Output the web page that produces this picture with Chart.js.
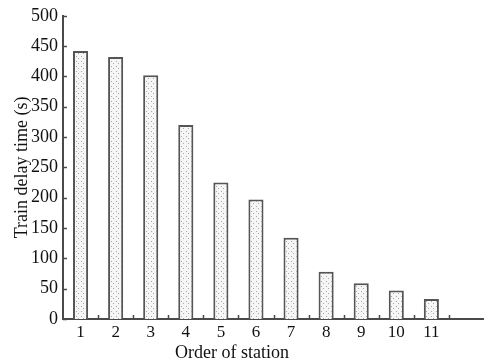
<!DOCTYPE html>
<html>
<head>
<meta charset="utf-8">
<script src="https://cdn.jsdelivr.net/npm/chart.js@4"></script>
<style>
  html, body { margin: 0; padding: 0; background: #fff; }
  #wrap { width: 484px; height: 364px; }
</style>
</head>
<body>
<div id="wrap"><canvas id="delayChart"></canvas></div>
<script>
// Chart data
// ----------------------------------------------
const stations = ['1', '2', '3', '4', '5', '6', '7', '8', '9', '10', '11', ''];
const delays   = [442, 432, 402, 320, 225, 197, 134, 78, 59, 47, 33];
const yTicks   = [0, 50, 100, 150, 200, 250, 300, 350, 400, 450, 500];

const axisColor = '#4a4a4a';
const textColor = '#111';
const serif     = '"Liberation Serif", "DejaVu Serif", serif';

// Dotted fill for the bars
// ----------------------------------------------
const makeDots = () => {
   const c = document.createElement('canvas');
   c.width = 5; c.height = 5;
   const g = c.getContext('2d');
   g.fillStyle = '#f6f6f6';
   g.fillRect(0, 0, 5, 5);
   g.fillStyle = '#a8a8a8';
   g.fillRect(1, 1, 1, 1);
   g.fillRect(3, 3, 1, 1);
   return g.createPattern(c, 'repeat');
};

// Inward tick marks + x title
// ----------------------------------------------
const axisExtras = {
   id: 'axisExtras',
   afterDraw(chart) {
      const { ctx, chartArea, scales: { x, y } } = chart;
      ctx.save();
      ctx.strokeStyle = axisColor;
      ctx.lineWidth = 1.5;
      ctx.beginPath();
      yTicks.forEach(v => {
         const py = Math.round(y.getPixelForValue(v)) + 0.5;
         ctx.moveTo(chartArea.left, py);
         ctx.lineTo(chartArea.left + 4, py);
      });
      for (let i = 1; i < stations.length; i++) {
         const px = Math.round((x.getPixelForValue(i - 1) + x.getPixelForValue(i)) / 2) + 0.5;
         ctx.moveTo(px, chartArea.bottom);
         ctx.lineTo(px, chartArea.bottom - 4);
      }
      ctx.stroke();

      ctx.fillStyle = textColor;
      ctx.font = '18px ' + serif;
      ctx.textAlign = 'center';
      ctx.textBaseline = 'alphabetic';
      ctx.fillText('Order of station', 232, 358);
      ctx.restore();
   }
};

const chart = new Chart(document.getElementById('delayChart'), {
   type: 'bar',
   data: {
      labels: stations,
      datasets: [{
         label: 'Train delay time',
         data: delays,
         backgroundColor: makeDots(),
         borderColor: '#555',
         borderWidth: 2,
         barPercentage: 0.43,
         categoryPercentage: 1
      }]
   },
   options: {
      responsive: true,
      maintainAspectRatio: false,
      devicePixelRatio: 1,
      animation: false,
      layout: { padding: { top: 14, right: 0, bottom: 0, left: 0 } },
      plugins: {
         legend: { display: false },
         tooltip: { enabled: false }
      },
      scales: {
         x: {
            grid: { display: false, drawTicks: false },
            border: { display: true, color: axisColor, width: 2 },
            ticks: {
               font: { family: serif, size: 17 },
               color: textColor,
               padding: 3,
               maxRotation: 0,
               autoSkip: false
            },
            afterFit: (scale) => { scale.height = 45; }
         },
         y: {
            min: 0,
            max: 500,
            grid: { display: false, drawTicks: false },
            border: { display: true, color: axisColor, width: 2 },
            ticks: {
               stepSize: 50,
               font: { family: serif, size: 18 },
               color: textColor,
               padding: 5
            },
            title: {
               display: true,
               text: 'Train delay time (s)',
               font: { family: serif, size: 18 },
               color: textColor,
               padding: { top: 11, bottom: 0 }
            },
            afterFit: (scale) => { scale.width = 63; }
         }
      }
   },
   plugins: [axisExtras]
});
</script>
</body>
</html>
